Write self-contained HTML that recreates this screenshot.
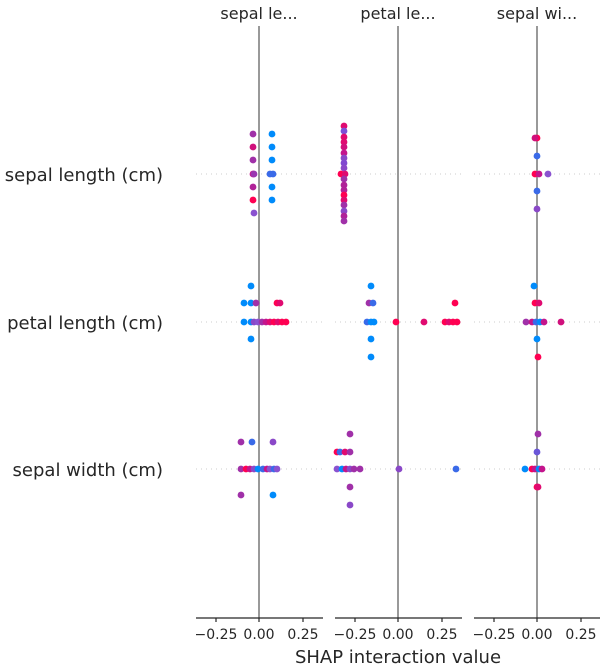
<!DOCTYPE html>
<html><head><meta charset="utf-8"><style>
body{margin:0;background:#fff}
svg{display:block;font-family:"DejaVu Sans","Liberation Sans",sans-serif}
circle{r:3.4px}
</style></head><body>
<svg width="606" height="668" viewBox="0 0 606 668" xmlns="http://www.w3.org/2000/svg">
<g fill="#262626" font-size="16" text-anchor="middle">
<text x="259" y="19">sepal le...</text>
<text x="398" y="19">petal le...</text>
<text x="537" y="19">sepal wi...</text>
</g>
<g fill="#262626" font-size="18" text-anchor="end">
<text x="163" y="181">sepal length (cm)</text>
<text x="163" y="329">petal length (cm)</text>
<text x="163" y="476">sepal width (cm)</text>
</g>
<g stroke="#ccc" stroke-dasharray="1,4" stroke-width="1">
<line x1="196" y1="174" x2="323" y2="174"/><line x1="335" y1="174" x2="462" y2="174"/><line x1="474" y1="174" x2="600" y2="174"/>
<line x1="196" y1="322" x2="323" y2="322"/><line x1="335" y1="322" x2="462" y2="322"/><line x1="474" y1="322" x2="600" y2="322"/>
<line x1="196" y1="469" x2="323" y2="469"/><line x1="335" y1="469" x2="462" y2="469"/><line x1="474" y1="469" x2="600" y2="469"/>
</g>
<g stroke="#999" stroke-width="2">
<line x1="259" y1="26" x2="259" y2="618"/><line x1="398" y1="26" x2="398" y2="618"/><line x1="537" y1="26" x2="537" y2="618"/>
</g>
<g stroke="#262626" stroke-width="1.2">
<line x1="196" y1="618" x2="323" y2="618"/><line x1="335" y1="618" x2="462" y2="618"/><line x1="474" y1="618" x2="600" y2="618"/>
<line x1="216" y1="618" x2="216" y2="622"/><line x1="259" y1="618" x2="259" y2="622"/><line x1="303" y1="618" x2="303" y2="622"/>
<line x1="355" y1="618" x2="355" y2="622"/><line x1="398" y1="618" x2="398" y2="622"/><line x1="442" y1="618" x2="442" y2="622"/>
<line x1="494" y1="618" x2="494" y2="622"/><line x1="537" y1="618" x2="537" y2="622"/><line x1="581" y1="618" x2="581" y2="622"/>
</g>
<g fill="#262626" font-size="14" text-anchor="middle">
<text x="216" y="639">−0.25</text><text x="259" y="639">0.00</text><text x="303" y="639">0.25</text>
<text x="355" y="639">−0.25</text><text x="398" y="639">0.00</text><text x="442" y="639">0.25</text>
<text x="494" y="639">−0.25</text><text x="537" y="639">0.00</text><text x="581" y="639">0.25</text>
</g>
<text x="398" y="663" fill="#262626" font-size="18" text-anchor="middle">SHAP interaction value</text>
<g>
<circle cx="253" cy="134" r="3" fill="#a030a8"/><circle cx="253" cy="147" r="3" fill="#d0107c"/><circle cx="253" cy="160" r="3" fill="#a030a8"/><circle cx="253" cy="174" r="3" fill="#c4148c"/><circle cx="254" cy="174" r="3" fill="#9a36b0"/><circle cx="253" cy="187" r="3" fill="#b02298"/><circle cx="253" cy="200" r="3" fill="#ff0052"/><circle cx="254" cy="213" r="3" fill="#8a52d0"/>
<circle cx="272" cy="134" r="3" fill="#008bfb"/><circle cx="272" cy="147" r="3" fill="#008bfb"/><circle cx="272" cy="160" r="3" fill="#008bfb"/><circle cx="270" cy="174" r="3" fill="#3a6ae8"/><circle cx="273" cy="174" r="3" fill="#3a6ae8"/><circle cx="272" cy="187" r="3" fill="#008bfb"/><circle cx="272" cy="200" r="3" fill="#008bfb"/>
<circle cx="344" cy="126" r="3" fill="#e00a70"/><circle cx="344" cy="131" r="3" fill="#7c50d8"/><circle cx="344" cy="137" r="3" fill="#e00a70"/><circle cx="344" cy="142" r="3" fill="#e00a70"/><circle cx="344" cy="147" r="3" fill="#d0107c"/><circle cx="344" cy="153" r="3" fill="#c4148c"/><circle cx="344" cy="158" r="3" fill="#8a48c8"/><circle cx="344" cy="163" r="3" fill="#8048d0"/><circle cx="344" cy="168" r="3" fill="#8a48c8"/><circle cx="341" cy="174" r="3" fill="#ff0052"/><circle cx="345" cy="174" r="3" fill="#e00a70"/><circle cx="344" cy="179" r="3" fill="#a030a8"/><circle cx="344" cy="185" r="3" fill="#b02298"/><circle cx="344" cy="190" r="3" fill="#b02298"/><circle cx="344" cy="195" r="3" fill="#ff0052"/><circle cx="344" cy="200" r="3" fill="#e00a70"/><circle cx="344" cy="205" r="3" fill="#a030a8"/><circle cx="344" cy="211" r="3" fill="#8a48c8"/><circle cx="344" cy="216" r="3" fill="#b02298"/><circle cx="344" cy="221" r="3" fill="#a030a8"/>
<circle cx="537" cy="138" r="3" fill="#ff0052"/><circle cx="535" cy="138" r="3" fill="#d0107c"/><circle cx="537" cy="156" r="3" fill="#3a6ae8"/><circle cx="535" cy="174" r="3" fill="#ff0052"/><circle cx="539" cy="174" r="3" fill="#c4148c"/><circle cx="548" cy="174" r="3" fill="#8a52d0"/><circle cx="537" cy="191" r="3" fill="#3a6ae8"/><circle cx="537" cy="209" r="3" fill="#8a48c8"/>
<circle cx="251" cy="286" r="3" fill="#008bfb"/>
<circle cx="244" cy="303" r="3" fill="#008bfb"/><circle cx="251" cy="303" r="3" fill="#008bfb"/><circle cx="256" cy="303" r="3" fill="#a030a8"/><circle cx="277" cy="303" r="3" fill="#ff0052"/><circle cx="280" cy="303" r="3" fill="#e00a70"/>
<circle cx="244" cy="322" r="3" fill="#008bfb"/><circle cx="251" cy="322" r="3" fill="#008bfb"/><circle cx="254" cy="322" r="3" fill="#8a48c8"/><circle cx="258" cy="322" r="3" fill="#8a52d0"/><circle cx="262" cy="322" r="3" fill="#a030a8"/><circle cx="266" cy="322" r="3" fill="#c4148c"/><circle cx="270" cy="322" r="3" fill="#e00a70"/><circle cx="274" cy="322" r="3" fill="#ff0052"/><circle cx="278" cy="322" r="3" fill="#e00a70"/><circle cx="282" cy="322" r="3" fill="#ff0052"/><circle cx="286" cy="322" r="3" fill="#ff0052"/>
<circle cx="251" cy="339" r="3" fill="#008bfb"/>
<circle cx="371" cy="286" r="3" fill="#008bfb"/>
<circle cx="369" cy="303" r="3" fill="#a030a8"/><circle cx="373" cy="303" r="3" fill="#3a6ae8"/><circle cx="455" cy="303" r="3" fill="#ff0052"/>
<circle cx="367" cy="322" r="3" fill="#3a6ae8"/><circle cx="371" cy="322" r="3" fill="#008bfb"/><circle cx="374" cy="322" r="3" fill="#008bfb"/><circle cx="396" cy="322" r="3" fill="#ff0052"/><circle cx="424" cy="322" r="3" fill="#e00a70"/><circle cx="445" cy="322" r="3" fill="#ff0052"/><circle cx="449" cy="322" r="3" fill="#e00a70"/><circle cx="453" cy="322" r="3" fill="#ff0052"/><circle cx="457" cy="322" r="3" fill="#ff0052"/>
<circle cx="371" cy="339" r="3" fill="#008bfb"/><circle cx="371" cy="357" r="3" fill="#008bfb"/>
<circle cx="534" cy="286" r="3" fill="#008bfb"/>
<circle cx="535" cy="303" r="3" fill="#ff0052"/><circle cx="539" cy="303" r="3" fill="#e00a70"/>
<circle cx="526" cy="322" r="3" fill="#a030a8"/><circle cx="532" cy="322" r="3" fill="#c4148c"/><circle cx="536" cy="322" r="3" fill="#3a6ae8"/><circle cx="540" cy="322" r="3" fill="#008bfb"/><circle cx="544" cy="322" r="3" fill="#c4148c"/><circle cx="561" cy="322" r="3" fill="#d0107c"/>
<circle cx="537" cy="339" r="3" fill="#008bfb"/><circle cx="538" cy="357" r="3" fill="#ff0052"/>
<circle cx="241" cy="442" r="3" fill="#a030a8"/><circle cx="252" cy="442" r="3" fill="#3a6ae8"/><circle cx="273" cy="442" r="3" fill="#8a48c8"/>
<circle cx="241" cy="469" r="3" fill="#a030a8"/><circle cx="246" cy="469" r="3" fill="#ff0052"/><circle cx="250" cy="469" r="3" fill="#c4148c"/><circle cx="254" cy="469" r="3" fill="#8a48c8"/><circle cx="258" cy="469" r="3" fill="#008bfb"/><circle cx="263" cy="469" r="3" fill="#3a6ae8"/><circle cx="267" cy="469" r="3" fill="#c4148c"/><circle cx="270" cy="469" r="3" fill="#8a52d0"/><circle cx="274" cy="469" r="3" fill="#3a6ae8"/><circle cx="277" cy="469" r="3" fill="#8a52d0"/>
<circle cx="241" cy="495" r="3" fill="#a030a8"/><circle cx="273" cy="495" r="3" fill="#008bfb"/>
<circle cx="350" cy="434" r="3" fill="#a030a8"/>
<circle cx="337" cy="452" r="3" fill="#ff0052"/><circle cx="340" cy="452" r="3" fill="#3a6ae8"/><circle cx="345" cy="452" r="3" fill="#e00a70"/><circle cx="350" cy="452" r="3" fill="#a030a8"/>
<circle cx="337" cy="469" r="3" fill="#8a52d0"/><circle cx="342" cy="469" r="3" fill="#008bfb"/><circle cx="346" cy="469" r="3" fill="#c4148c"/><circle cx="350" cy="469" r="3" fill="#8a48c8"/><circle cx="354" cy="469" r="3" fill="#a030a8"/><circle cx="360" cy="469" r="3" fill="#a030a8"/><circle cx="399" cy="469" r="3" fill="#8a48c8"/><circle cx="456" cy="469" r="3" fill="#3a6ae8"/>
<circle cx="350" cy="487" r="3" fill="#a030a8"/><circle cx="350" cy="505" r="3" fill="#8a48c8"/>
<circle cx="538" cy="434" r="3" fill="#a030a8"/><circle cx="537" cy="452" r="3" fill="#6a56d8"/>
<circle cx="525" cy="469" r="3" fill="#008bfb"/><circle cx="532" cy="469" r="3" fill="#ff0052"/><circle cx="535" cy="469" r="3" fill="#c4148c"/><circle cx="539" cy="469" r="3" fill="#008bfb"/><circle cx="542" cy="469" r="3" fill="#c4148c"/>
<circle cx="537" cy="487" r="3" fill="#ff0052"/><circle cx="538" cy="487" r="3" fill="#e00a70"/>
</g>
</svg>
</body></html>
